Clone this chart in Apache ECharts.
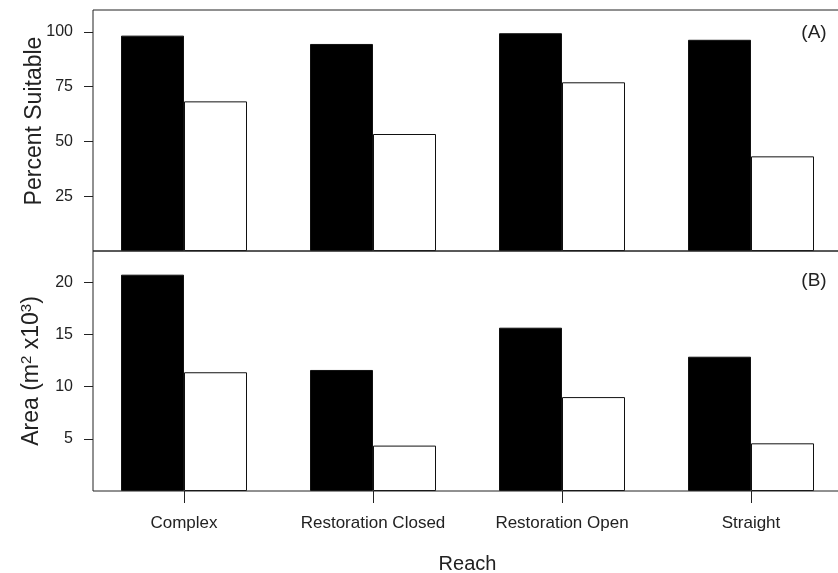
<!DOCTYPE html>
<html>
<head>
<meta charset="utf-8">
<script src="https://cdn.jsdelivr.net/npm/echarts@6/dist/echarts.min.js"></script>
<style>
    html, body { margin: 0; padding: 0; background: #fff; }
    #chart { width: 838px; height: 573px; }
</style>
</head>
<body>
<div id="chart"></div>
<script>
(function () {
    'use strict';

    var reaches = ['Complex', 'Restoration Closed', 'Restoration Open', 'Straight'];

    // panel A, percent suitable
    var percentBlack = [98.3, 94.5, 99.4, 96.4];
    var percentWhite = [68.3, 53.4, 77.0, 43.2];
    var percentTicks = [25, 50, 75, 100];

    // panel B, area (m2 x 10^3)
    var areaBlack = [20.73, 11.6, 15.65, 12.87];
    var areaWhite = [11.38, 4.35, 9.0, 4.57];
    var areaTicks = [5, 10, 15, 20];

    var ink = '#222';
    var font = '"Liberation Sans", Arial, sans-serif';

    // first and last category sit at the grid edges (boundaryGap false),
    // y axis is pulled back to the plot frame with offset
    var frameLeft = 93;
    var gridLeft = 184, gridRight = 87;

    function valueAxis(gridIndex, max, ticks, name, gap, shift) {
        return {
            type: 'value',
            gridIndex: gridIndex,
            min: 0,
            max: max,
            offset: gridLeft - frameLeft,
            splitLine: {show: false},
            axisLine: {show: false},
            axisTick: {show: true, length: 9, customValues: ticks, lineStyle: {color: ink}},
            axisLabel: {customValues: ticks, margin: 20, color: ink, fontSize: 16, fontFamily: font},
            name: name,
            nameLocation: 'middle',
            nameGap: gap,
            nameMoveOverlap: false,
            nameTextStyle: {
                color: ink, fontSize: 23, fontFamily: font,
                padding: [0, 0, 0, shift],
                rich: {
                    sup: {fontSize: 15, verticalAlign: 'top', padding: [0, 0, 10, 0], color: ink, fontFamily: font}
                }
            }
        };
    }

    function barSeries(axisIndex, data, fill) {
        return {
            type: 'bar',
            xAxisIndex: axisIndex,
            yAxisIndex: axisIndex,
            data: data,
            barWidth: 63,
            barGap: '0%',
            clip: false,
            itemStyle: {color: fill, borderColor: '#111', borderWidth: 1},
            silent: true
        };
    }

    var myChart = echarts.init(document.getElementById('chart'), null, {renderer: 'canvas'});

    var option = {
        animation: false,
        backgroundColor: '#fff',
        grid: [
            {left: gridLeft, right: gridRight, top: 10, height: 241, outerBoundsMode: 'none'},
            {left: gridLeft, right: gridRight, top: 251, height: 240, outerBoundsMode: 'none'}
        ],
        xAxis: [
            {
                type: 'category', gridIndex: 0, data: reaches, boundaryGap: false,
                axisLine: {show: false}, axisTick: {show: false}, axisLabel: {show: false}
            },
            {
                type: 'category', gridIndex: 1, data: reaches, boundaryGap: false,
                axisLine: {show: false},
                axisTick: {show: true, length: 12, lineStyle: {color: ink}},
                axisLabel: {margin: 24, color: ink, fontSize: 17, fontFamily: font},
                name: 'Reach',
                nameLocation: 'middle',
                nameGap: 63,
                nameMoveOverlap: false,
                nameTextStyle: {color: ink, fontSize: 20, fontFamily: font}
            }
        ],
        yAxis: [
            valueAxis(0, 110, percentTicks, 'Percent Suitable', 47, 19),
            valueAxis(1, 23, areaTicks, 'Area (m{sup|2} x10{sup|3})', 49, 0)
        ],
        series: [
            barSeries(0, percentBlack, '#000'),
            barSeries(0, percentWhite, '#fff'),
            barSeries(1, areaBlack, '#000'),
            barSeries(1, areaWhite, '#fff')
        ],
        graphic: [
            {type: 'rect', shape: {x: frameLeft, y: 10, width: 760, height: 241}, style: {fill: null, stroke: ink, lineWidth: 1}, z: 10, silent: true},
            {type: 'rect', shape: {x: frameLeft, y: 251, width: 760, height: 240}, style: {fill: null, stroke: ink, lineWidth: 1}, z: 10, silent: true},
            {type: 'text', x: 814, y: 33, style: {text: '(A)', fill: ink, fontSize: 19, fontFamily: font, align: 'center', verticalAlign: 'middle'}, silent: true},
            {type: 'text', x: 814, y: 281, style: {text: '(B)', fill: ink, fontSize: 19, fontFamily: font, align: 'center', verticalAlign: 'middle'}, silent: true}
        ]
    };

    myChart.setOption(option);
})();
</script>
</body>
</html>
